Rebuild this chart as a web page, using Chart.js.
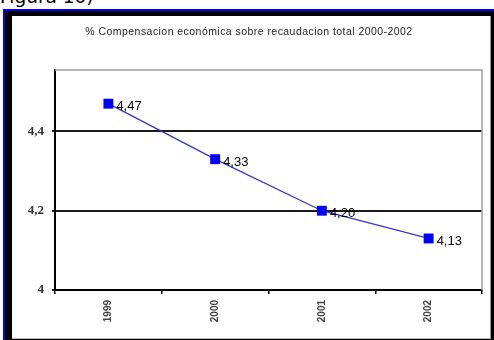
<!DOCTYPE html>
<html>
<head>
<meta charset="utf-8">
<script src="https://cdn.jsdelivr.net/npm/chart.js@4/dist/chart.umd.min.js"></script>
<style>
  html, body { margin: 0; padding: 0; background: #fff; }
  body { width: 494px; height: 340px; position: relative; overflow: hidden; }
  #caption { position: absolute; left: 0; top: -14px; font-family: "DejaVu Sans", sans-serif; font-size: 18.5px; color: #000; white-space: nowrap; }
  #blue { position: absolute; left: 3px; top: 9px; width: 491px; height: 331px; background: #0000ff; }
  #black { position: absolute; left: 5px; top: 11px; width: 489px; height: 329px; background: #000; }
  #white { position: absolute; left: 12px; top: 16px; width: 478px; height: 322px; background: #fff; border-right: 1px solid #999; border-bottom: 1px solid #bbb; }
  #wrap { position: absolute; left: 0; top: 0; width: 494px; height: 340px; }
</style>
</head>
<body>
<div id="caption">Figura 10)</div>
<div id="blue"></div>
<div id="black"></div>
<div id="white"></div>
<div id="wrap"><canvas id="c" width="494" height="340"></canvas></div>
<script>
const titleText = "% Compensacion económica sobre recaudacion total 2000-2002";
const categories = ["1999", "2000", "2001", "2002"];
const values = [4.47, 4.33, 4.20, 4.13];
const valueLabels = ["4,47", "4,33", "4,20", "4,13"];
const yTicks = [4, 4.2, 4.4];
const yTickLabels = ["4", "4,2", "4,4"];
const yMin = 4;
const yMax = 4.555;

const frameAndLabels = {
  id: 'frameAndLabels',
  beforeDatasetsDraw(chart) {
    const { ctx, chartArea: a } = chart;
    ctx.save();
    ctx.strokeStyle = '#a0a0a0';
    ctx.lineWidth = 1.5;
    ctx.beginPath();
    ctx.moveTo(a.left, a.top);
    ctx.lineTo(a.right, a.top);
    ctx.lineTo(a.right, a.bottom);
    ctx.stroke();
    ctx.restore();
  },
  afterDatasetsDraw(chart) {
    const { ctx } = chart;
    const meta = chart.getDatasetMeta(0);
    ctx.save();
    ctx.font = '13px "Liberation Sans", Arial, sans-serif';
    ctx.fillStyle = '#000';
    ctx.textAlign = 'left';
    ctx.textBaseline = 'middle';
    meta.data.forEach((pt, i) => {
      ctx.fillText(valueLabels[i], pt.x + 8, pt.y + 3);
    });
    ctx.restore();
  },
  afterDraw(chart) {
    const { ctx } = chart;
    ctx.save();
    ctx.font = '10.5px "Liberation Sans", Arial, sans-serif';
    ctx.fillStyle = '#222';
    ctx.textAlign = 'center';
    ctx.textBaseline = 'middle';
    try { ctx.letterSpacing = '0.45px'; } catch (e) {}
    ctx.fillText(titleText, 249, 32);
    ctx.restore();
  }
};

new Chart(document.getElementById('c'), {
  type: 'line',
  data: {
    labels: categories,
    datasets: [{
      data: values,
      borderColor: '#3535c8',
      borderWidth: 1.3,
      pointStyle: 'rect',
      pointRadius: 7,
      pointHoverRadius: 7,
      pointBackgroundColor: '#0000ff',
      pointBorderColor: '#0000ff',
      pointBorderWidth: 0,
      tension: 0,
      fill: false
    }]
  },
  options: {
    responsive: false,
    animation: false,
    devicePixelRatio: 1,
    layout: { padding: { left: 0, top: 70, right: 12, bottom: 0 } },
    plugins: { legend: { display: false }, tooltip: { enabled: false }, title: { display: false } },
    scales: {
      x: {
        type: 'category',
        offset: true,
        afterFit(s) { s.height = 50; },
        grid: { offset: true, drawOnChartArea: false, color: '#000', lineWidth: 1.5, tickLength: 4 },
        border: { color: '#000', width: 2 },
        ticks: {
          minRotation: 90, maxRotation: 90, padding: 6,
          color: '#444',
          font: { family: '"Liberation Sans", Arial, sans-serif', size: 10, weight: 'bold' }
        }
      },
      y: {
        min: yMin, max: yMax,
        afterFit(s) { s.width = 55; },
        afterBuildTicks(s) { s.ticks = yTicks.map(v => ({ value: v })); },
        grid: { color: '#1a1a1a', lineWidth: 2, tickLength: 3 },
        border: { color: '#000', width: 2 },
        ticks: {
          padding: 8,
          color: '#333',
          font: { family: '"Liberation Serif", "Times New Roman", serif', size: 13, weight: 'bold' },
          callback(v) { const i = yTicks.indexOf(v); return i >= 0 ? yTickLabels[i] : ''; }
        }
      }
    }
  },
  plugins: [frameAndLabels]
});
</script>
</body>
</html>
